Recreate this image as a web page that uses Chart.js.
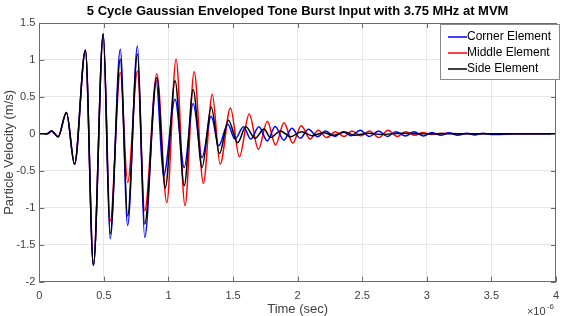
<!DOCTYPE html>
<html>
<head>
<meta charset="utf-8">
<script src="https://cdn.jsdelivr.net/npm/chart.js@4.4.0/dist/chart.umd.min.js"></script>
<style>
  html, body { margin: 0; padding: 0; background: #fff; }
  #wrap { width: 567px; height: 316px; }
</style>
</head>
<body>
<div id="wrap"><canvas id="chart" width="567" height="316"></canvas></div>
<script>
// time in microseconds (axis shows x10^-6), velocity in m/s
// read peak by peak off the figure

const cornerT = [0, 0.06, 0.095, 0.146, 0.21, 0.273, 0.357, 0.419, 0.495, 0.549, 0.627, 0.684, 0.76, 0.816,
  0.905, 0.962, 1.051, 1.122, 1.191, 1.26, 1.331, 1.39, 1.459, 1.515, 1.581, 1.637, 1.70, 1.765, 1.826,
  1.893, 1.956, 2.02, 2.084, 2.155, 2.216, 2.288, 2.352, 2.415, 2.484, 2.555, 2.627, 2.696, 2.76, 2.836,
  2.90, 2.976, 3.04, 3.11, 3.17, 3.24, 3.31, 3.37, 3.44, 3.5, 3.7, 4];
const cornerV = [0, 0, 0.04, -0.04, 0.29, -0.41, 1.13, -1.78, 1.35, -1.42, 1.145, -1.24, 1.19, -1.40,
  0.72, -0.57, 0.47, -0.455, 0.41, -0.32, 0.24, -0.16, 0.13, -0.07, 0.095, -0.07, 0.095, -0.095, 0.1,
  -0.085, 0.077, -0.06, 0.063, -0.04, 0.04, -0.035, 0.03, -0.025, 0.05, -0.035, 0.04, -0.035, 0.03, -0.03,
  0.03, -0.03, 0.02, -0.02, 0.015, -0.02, 0.01, -0.015, 0.01, -0.01, 0, 0];

const middleT = [0, 0.06, 0.095, 0.146, 0.21, 0.273, 0.357, 0.419, 0.495, 0.549, 0.627, 0.684, 0.76, 0.816,
  0.91, 0.987, 1.059, 1.128, 1.199, 1.27, 1.339, 1.40, 1.48, 1.549, 1.625, 1.696, 1.765, 1.829, 1.895,
  1.962, 2.028, 2.097, 2.16, 2.224, 2.293, 2.36, 2.42, 2.49, 2.555, 2.63, 2.70, 2.77, 2.836, 2.91, 2.964,
  3.04, 3.11, 3.3, 4];
const middleV = [0, 0, 0.04, -0.04, 0.29, -0.41, 1.13, -1.78, 1.34, -1.18, 0.83, -0.66, 0.85, -1.04,
  0.81, -0.93, 1.01, -0.97, 0.84, -0.67, 0.535, -0.41, 0.35, -0.31, 0.27, -0.21, 0.17, -0.15, 0.15,
  -0.125, 0.11, -0.07, 0.05, -0.05, 0.03, -0.035, 0.04, -0.025, 0.04, -0.05, 0.05, -0.035, 0.03, -0.02, 0.02,
  -0.01, 0.01, 0, 0];

const sideT = [0, 0.06, 0.095, 0.146, 0.21, 0.273, 0.357, 0.419, 0.495, 0.549, 0.627, 0.684, 0.76, 0.816,
  0.91, 0.975, 1.051, 1.122, 1.191, 1.26, 1.331, 1.395, 1.464, 1.536, 1.599, 1.671, 1.74, 1.79, 1.867,
  1.945, 2.03, 2.11, 2.2, 2.275, 2.365, 2.44, 2.55, 2.65, 2.8, 3.0, 4];
const sideV = [0, 0, 0.04, -0.04, 0.29, -0.41, 1.13, -1.78, 1.355, -1.35, 1.01, -1.11, 1.08, -1.22,
  0.76, -0.73, 0.72, -0.70, 0.60, -0.455, 0.365, -0.265, 0.185, -0.12, 0.095, -0.06, 0.065, -0.05, 0.04,
  -0.04, 0.03, -0.025, 0.015, -0.02, 0.025, -0.02, 0.01, -0.01, 0.01, 0, 0];

const seriesNames = ['Corner Element', 'Middle Element', 'Side Element'];
const seriesColors = ['#0000ff', '#ff0000', '#000000'];

function pairs(t, v) {
  return t.map((x, i) => ({x: x, y: v[i]}));
}

// matlab prints 1 not 1.0
const tickText = v => String(Math.round(v * 10) / 10);

const FONT = "'Liberation Sans', Arial, sans-serif";
const AXIS = '#6b6b6b';

// box, inward ticks, exponent label and a matlab style legend
const matlabAxes = {
  id: 'matlabAxes',
  afterDraw(chart) {
    const ctx = chart.ctx;
    const a = chart.chartArea;
    const xs = chart.scales.x, ys = chart.scales.y;
    ctx.save();
    ctx.strokeStyle = AXIS;
    ctx.lineWidth = 1;
    ctx.strokeRect(Math.round(a.left) + 0.5, Math.round(a.top) + 0.5,
      Math.round(a.right - a.left) - 1, Math.round(a.bottom - a.top) - 1);
    ctx.beginPath();
    xs.ticks.forEach(t => {
      const px = Math.round(xs.getPixelForValue(t.value)) + 0.5;
      ctx.moveTo(px, a.top); ctx.lineTo(px, a.top + 5);
      ctx.moveTo(px, a.bottom); ctx.lineTo(px, a.bottom - 5);
    });
    ys.ticks.forEach(t => {
      const py = Math.round(ys.getPixelForValue(t.value)) + 0.5;
      ctx.moveTo(a.left, py); ctx.lineTo(a.left + 5, py);
      ctx.moveTo(a.right, py); ctx.lineTo(a.right - 5, py);
    });
    ctx.stroke();

    // x10^-6, right aligned with the axis
    ctx.fillStyle = '#404040';
    ctx.textBaseline = 'alphabetic';
    ctx.textAlign = 'left';
    ctx.font = '11px ' + FONT;
    ctx.fillText('\u00d710', a.right - 29, 315);
    ctx.font = '8px ' + FONT;
    ctx.fillText('-6', a.right - 9, 309);

    // legend
    const lx = 440, ly = 24, lw = 119, lh = 55;
    ctx.fillStyle = '#fff';
    ctx.fillRect(lx, ly, lw, lh);
    ctx.strokeStyle = '#8a8a8a';
    ctx.strokeRect(lx + 0.5, ly + 0.5, lw, lh);
    ctx.font = '12px ' + FONT;
    ctx.textBaseline = 'middle';
    chart.data.datasets.forEach((ds, i) => {
      const yy = 37 + i * 16;
      ctx.strokeStyle = ds.borderColor;
      ctx.lineWidth = 1.5;
      ctx.beginPath();
      ctx.moveTo(448, yy); ctx.lineTo(467, yy);
      ctx.stroke();
      ctx.fillStyle = '#000';
      ctx.fillText(ds.label, 467, yy);
    });
    ctx.restore();
  }
};

new Chart(document.getElementById('chart'), {
  type: 'line',
  data: {
    datasets: [
      {label: seriesNames[0], data: pairs(cornerT, cornerV), borderColor: seriesColors[0], order: 1},
      {label: seriesNames[1], data: pairs(middleT, middleV), borderColor: seriesColors[1], order: 2},
      {label: seriesNames[2], data: pairs(sideT, sideV), borderColor: seriesColors[2], order: 0},
    ],
  },
  options: {
    responsive: false,
    animation: false,
    layout: {padding: {top: 0, right: -1.5, left: 0, bottom: 0}},
    elements: {
      line: {borderWidth: 1.5, cubicInterpolationMode: 'monotone', fill: false},
      point: {radius: 0},
    },
    plugins: {
      legend: {display: false},
      tooltip: {enabled: false},
      title: {
        display: true,
        fullSize: false, // centre over the plot, not the canvas
        text: '5 Cycle Gaussian Enveloped Tone Burst Input with 3.75 MHz at MVM',
        color: '#000',
        font: {family: FONT, size: 13, weight: 'bold', lineHeight: 1.2},
        padding: {top: 4, bottom: 3.4},
      },
    },
    scales: {
      x: {
        type: 'linear',
        min: 0,
        max: 4,
        afterFit: s => { s.height = 34.3; },
        ticks: {stepSize: 0.5, color: '#404040', font: {family: FONT, size: 11}, padding: 8,
          maxRotation: 0, callback: tickText},
        grid: {color: '#e6e6e6', drawTicks: false},
        border: {display: false},
        title: {display: true, text: 'Time (sec)', color: '#404040',
          font: {family: FONT, size: 13}, padding: {top: 0, bottom: -1}},
      },
      y: {
        min: -2,
        max: 1.5,
        afterFit: s => { s.width = 39.3; },
        ticks: {stepSize: 0.5, color: '#404040', font: {family: FONT, size: 11}, padding: 4,
          callback: tickText},
        grid: {color: '#e6e6e6', drawTicks: false},
        border: {display: false},
        title: {display: true, text: 'Particle Velocity (m/s)', color: '#404040',
          font: {family: FONT, size: 13}, padding: {top: 2, bottom: 0}},
      },
    },
  },
  plugins: [matlabAxes],
});
</script>
</body>
</html>
